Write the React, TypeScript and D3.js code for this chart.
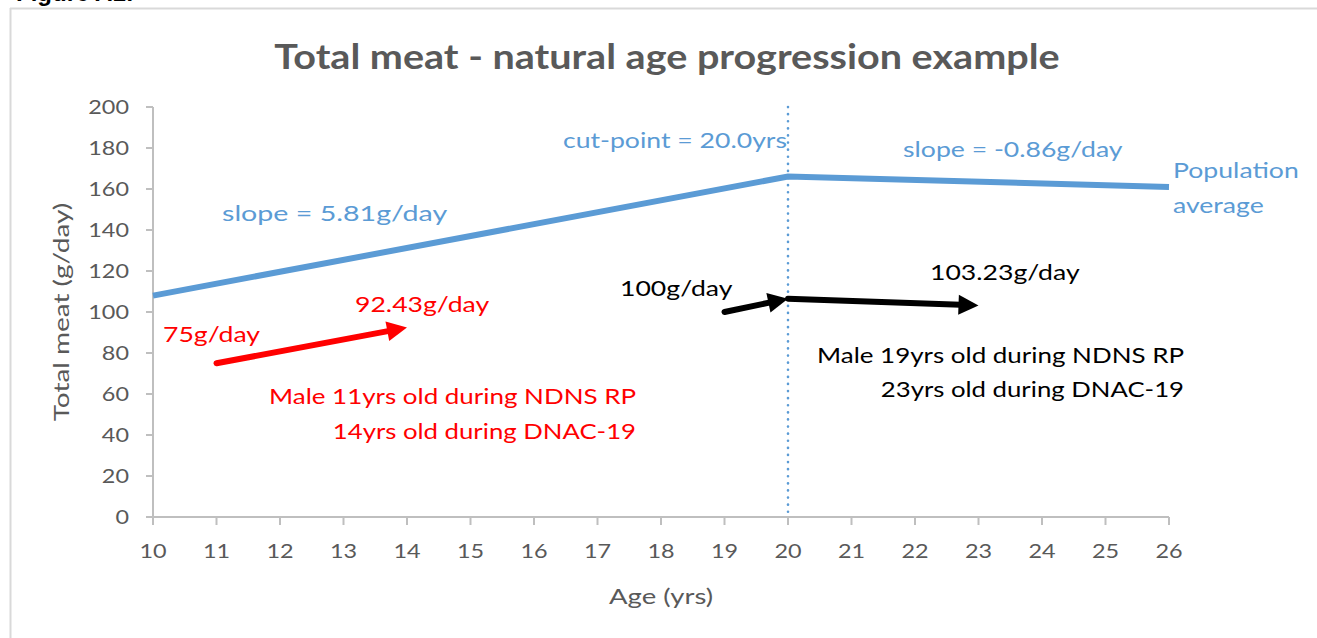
import * as d3 from "d3";

// population average: piecewise line with cut-point at 20yrs
const popAges = [10, 20, 26];
const popValues = [108, 166.1, 161];
const cutPoint = 20;

// individual examples (age, g/day)
const redAges = [11, 14];
const redValues = [75, 92.43];
const blackAges = [19, 20, 23];
const blackValues = [100, 106.5, 103.23];

const xTicks = d3.range(10, 27);
const yTicks = d3.range(0, 201, 20);

const W = 1317;
const H = 638;
const FONT = "Lato, 'Open Sans', sans-serif";
const BLUE = "#5b9bd5";
const GREY = "#595959";
const AXIS = "#bfbfbf";

// text stretched horizontally (the source figure is wider than its font)
function T({ x, y, sx = 1.21, anchor = "start", size = 22, fill, weight, rotate, children }: any) {
  const tr = `translate(${x},${y})${rotate ? ` rotate(${rotate})` : ""} scale(${sx},1)`;
  return (
    <text transform={tr} textAnchor={anchor} fontSize={size} fill={fill} fontWeight={weight}>
      {children}
    </text>
  );
}

function Arrow({ x1, y1, x2, y2, color }: any) {
  const ang = Math.atan2(y2 - y1, x2 - x1);
  const len = 20;
  const hw = 10;
  const bx = x2 - len * Math.cos(ang);
  const by = y2 - len * Math.sin(ang);
  const px = -Math.sin(ang) * hw;
  const py = Math.cos(ang) * hw;
  return (
    <g>
      <line x1={x1} y1={y1} x2={bx + 2 * Math.cos(ang)} y2={by + 2 * Math.sin(ang)} stroke={color} strokeWidth={6} strokeLinecap="round" />
      <path d={`M${x2},${y2}L${bx + px},${by + py}L${bx - px},${by - py}Z`} fill={color} />
    </g>
  );
}

export default function App() {
  const x = d3.scaleLinear().domain([10, 26]).range([153, 1169]);
  const y = d3.scaleLinear().domain([0, 200]).range([517, 107]);

  const line = d3
    .line<number>()
    .x((_, i) => x(popAges[i]))
    .y((d) => y(d));

  const r = redAges.map((a, i) => [x(a), y(redValues[i])]);
  const b = blackAges.map((a, i) => [x(a), y(blackValues[i])]);

  return (
    <svg width={W} height={H} style={{ position: "absolute", left: 0, top: 0, background: "#fff" }} fontFamily={FONT}>
      <text x={16} y={1} fontFamily="'Liberation Sans', Arial, sans-serif" fontWeight="bold" fontSize={24} fill="#000">
        Figure A1:
      </text>
      <line x1={10} y1={8.5} x2={W} y2={8.5} stroke="#d9d9d9" strokeWidth={2} />
      <line x1={10.5} y1={8} x2={10.5} y2={H} stroke="#d9d9d9" strokeWidth={2} />

      <T x={667} y={69} anchor="middle" size={35} sx={1.13} weight="bold" fill={GREY}>
        Total meat - natural age progression example
      </T>

      {/* axes */}
      <line x1={x(10)} y1={y(0)} x2={x(10)} y2={y(200)} stroke={AXIS} strokeWidth={2} />
      <line x1={x(10) - 7} y1={y(0)} x2={x(26)} y2={y(0)} stroke={AXIS} strokeWidth={2} />
      {yTicks.map((t) => (
        <g key={t}>
          <line x1={x(10) - 7} x2={x(10)} y1={y(t)} y2={y(t)} stroke={AXIS} strokeWidth={2} />
          <T x={129} y={y(t) + 7} anchor="end" size={20} sx={1.17} fill={GREY}>
            {t}
          </T>
        </g>
      ))}
      {xTicks.map((t) => (
        <g key={t}>
          <line x1={x(t)} x2={x(t)} y1={y(0)} y2={y(0) + 8} stroke={AXIS} strokeWidth={2} />
          <T x={x(t)} y={558} anchor="middle" size={20} sx={1.17} fill={GREY}>
            {t}
          </T>
        </g>
      ))}
      <T x={69} y={312} rotate={-90} anchor="middle" size={22} sx={1.27} fill={GREY}>
        Total meat (g/day)
      </T>
      <T x={661} y={604} anchor="middle" size={22} sx={1.25} fill={GREY}>
        Age (yrs)
      </T>

      {/* cut-point */}
      <line x1={x(cutPoint)} x2={x(cutPoint)} y1={y(200)} y2={y(0)} stroke={BLUE} strokeWidth={2.6} strokeLinecap="round" strokeDasharray="0.1 7" />

      <path d={line(popValues) || ""} fill="none" stroke={BLUE} strokeWidth={6} />

      <Arrow x1={r[0][0]} y1={r[0][1]} x2={r[1][0]} y2={r[1][1]} color="#ff0000" />
      <Arrow x1={b[0][0]} y1={b[0][1]} x2={b[1][0]} y2={b[1][1]} color="#000" />
      <Arrow x1={b[1][0]} y1={b[1][1]} x2={b[2][0]} y2={b[2][1]} color="#000" />

      {/* annotations */}
      <T x={787} y={148} anchor="end" fill={BLUE}>cut-point = 20.0yrs</T>
      <T x={222} y={221} sx={1.3} fill={BLUE}>slope = 5.81g/day</T>
      <T x={903} y={157} fill={BLUE}>slope = -0.86g/day</T>
      <T x={1173} y={178} fill={BLUE}>Population</T>
      <T x={1173} y={213} fill={BLUE}>average</T>

      <T x={163} y={342} fill="#ff0000">75g/day</T>
      <T x={355} y={312} fill="#ff0000">92.43g/day</T>
      <T x={636} y={404} anchor="end" sx={1.18} fill="#ff0000">Male 11yrs old during NDNS RP</T>
      <T x={636} y={439} anchor="end" sx={1.17} fill="#ff0000">14yrs old during DNAC-19</T>

      <T x={620} y={296} fill="#000">100g/day</T>
      <T x={930} y={280} fill="#000">103.23g/day</T>
      <T x={1184} y={363} anchor="end" sx={1.18} fill="#000">Male 19yrs old during NDNS RP</T>
      <T x={1184} y={397} anchor="end" sx={1.17} fill="#000">23yrs old during DNAC-19</T>
    </svg>
  );
}
